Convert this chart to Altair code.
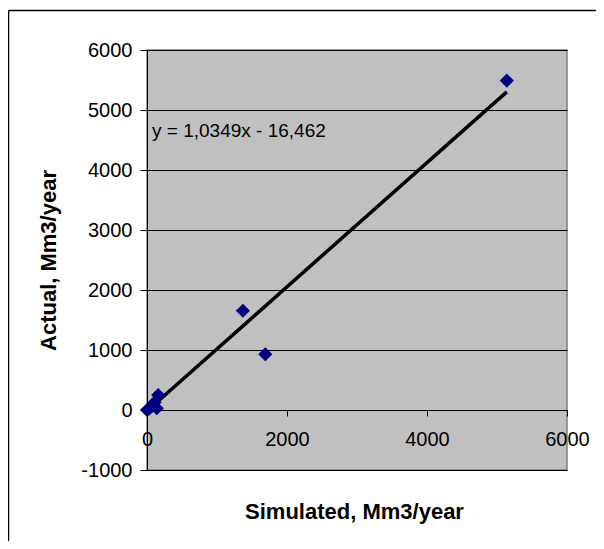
import altair as alt
import pandas as pd

# Data
simulated = [0, 30, 80, 140, 110, 160, 1370, 1690, 5140]
actual = [0, 20, 70, 30, 130, 250, 1655, 930, 5490]

# Excel trendline shown on the chart: y = 1,0349x - 16,462
slope = 1.0349
intercept = -16.462
equation_label = "y = 1,0349x - 16,462"

x_ticks = [0, 2000, 4000, 6000]
y_ticks = [-1000, 0, 1000, 2000, 3000, 4000, 5000, 6000]

points = pd.DataFrame({"sim": simulated, "act": actual})
x_ext = [min(simulated), max(simulated)]
trend = pd.DataFrame({"sim": x_ext, "act": [slope * v + intercept for v in x_ext]})

FONT = "Liberation Sans"
LABEL_EXPR = "'' + datum.value"

xscale = alt.Scale(domain=[0, 6000], nice=False, zero=False)
yscale = alt.Scale(domain=[-1000, 6000], nice=False, zero=False)

xaxis = alt.Axis(
    values=x_ticks, offset=-60, grid=False, domainColor="black", domainWidth=1,
    tickColor="black", tickSize=6, labelPadding=13, labelFontSize=20,
    labelFont=FONT, labelColor="black", labelFlush=False, labelExpr=LABEL_EXPR,
    title="Simulated, Mm3/year", titleFont=FONT, titleFontSize=22,
    titleFontWeight="bold", titleColor="black", titleX=207, titleY=108,
    titleBaseline="alphabetic", titleAlign="center",
)
yaxis = alt.Axis(
    values=y_ticks, grid=True, gridColor="black", gridWidth=1,
    domainColor="black", domainWidth=1, tickColor="black", tickSize=7,
    labelPadding=8, labelFontSize=20, labelFont=FONT, labelColor="black",
    labelFlush=False, labelExpr=LABEL_EXPR,
    title="Actual, Mm3/year", titleFont=FONT, titleFontSize=22,
    titleFontWeight="bold", titleColor="black", titleX=-92, titleY=210,
    titleAngle=270, titleBaseline="alphabetic", titleAlign="center",
)

base_pts = alt.Chart(points).mark_point(
    shape="diamond", filled=True, size=200, color="#000080", opacity=1
).encode(
    x=alt.X("sim:Q", scale=xscale, axis=xaxis),
    y=alt.Y("act:Q", scale=yscale, axis=yaxis),
)

line = alt.Chart(trend).mark_line(color="black", strokeWidth=3.5).encode(
    x=alt.X("sim:Q", scale=xscale),
    y=alt.Y("act:Q", scale=yscale),
)

eq = alt.Chart(pd.DataFrame({"t": [equation_label]})).mark_text(
    align="left", baseline="alphabetic", font=FONT, fontSize=19, color="black"
).encode(x=alt.value(5), y=alt.value(87), text="t:N")

one = pd.DataFrame({"a": [0]})
frame_left = alt.Chart(one).mark_rule(color="black", strokeWidth=1.5, clip=False).encode(
    x=alt.value(-138.5), y=alt.value(-39.5), y2=alt.value(700)
)
frame_top = alt.Chart(one).mark_rule(color="black", strokeWidth=1.5, clip=False).encode(
    x=alt.value(-138.5), x2=alt.value(700), y=alt.value(-39.5)
)

chart = alt.layer(frame_left, frame_top, line, base_pts, eq).properties(
    width=420, height=420,
    autosize=alt.AutoSizeParams(type="none"),
    padding={"left": 139, "top": 42, "right": 29, "bottom": 71},
    background="white",
).configure_view(
    fill="#C0C0C0", stroke="#808080", strokeWidth=1.5
)

chart.save("out.html", embed_options={"renderer": "svg", "actions": False})
